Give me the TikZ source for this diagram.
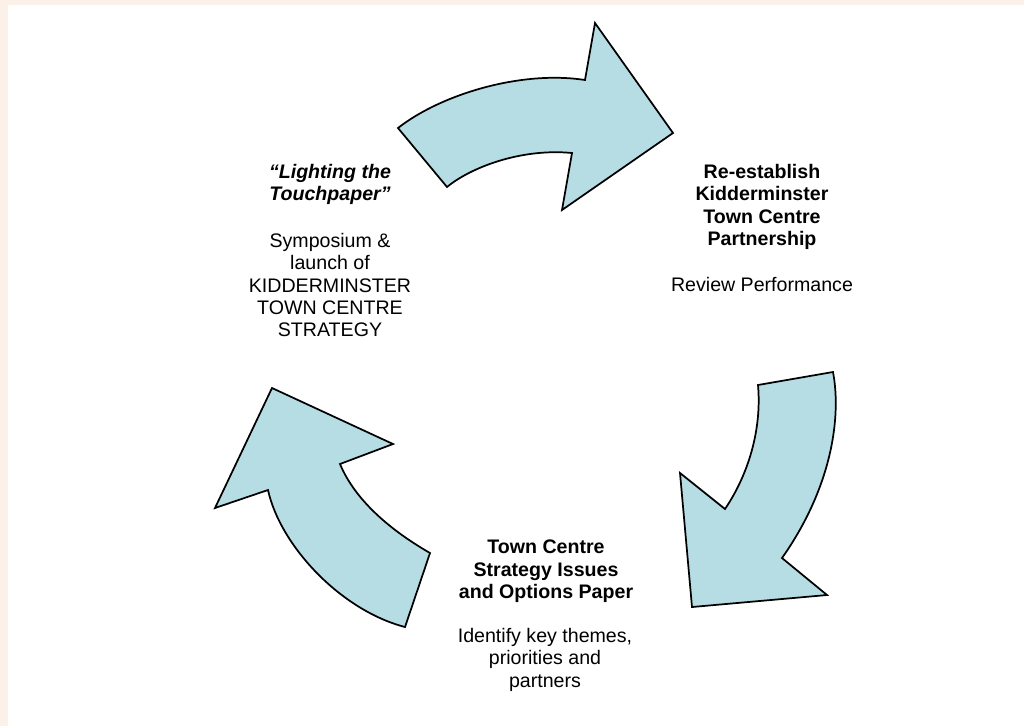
\documentclass[tikz,border=0pt]{standalone}
\usepackage{fontspec}
\setmainfont{Liberation Sans}
\definecolor{peach}{RGB}{252,241,232}
\definecolor{arrowfill}{RGB}{182,221,228}
\begin{document}
\begin{tikzpicture}[x=0.75pt,y=-0.75pt,
  cyclearrow/.style={fill=arrowfill,draw=black,line width=1.3pt,line join=miter},
  txt/.style={align=center,inner sep=0pt,anchor=north,font=\fontsize{14.7}{16.75}\selectfont}]
\path[use as bounding box] (0,0) rectangle (1024,726);
\fill[peach] (0,0) rectangle (1024,726);
\fill[white] (8,5) rectangle (1024,726);
% top arrow
\draw[cyclearrow] (398,128) .. controls (440,95) and (520,70) .. (585,80)
  -- (595,23) -- (673,133) -- (562,210) -- (572,153)
  .. controls (520,148) and (470,168) .. (447,187) -- cycle;
% right arrow
\draw[cyclearrow] (758,385) -- (833,372) .. controls (842,420) and (830,490) .. (782,558)
  -- (827,595) -- (692,607) -- (680,473) -- (725,509)
  .. controls (748,475) and (762,430) .. (758,385) -- cycle;
% left arrow
\draw[cyclearrow] (405,627) -- (430,553) .. controls (390,530) and (355,500) .. (340,464)
  -- (393,444) -- (272,388) -- (215,508) -- (268,490)
  .. controls (280,545) and (340,610) .. (405,627) -- cycle;
% texts
\node[txt] (lt) at (330,164) {\bfseries\itshape “Lighting the\\\bfseries\itshape Touchpaper”};
\node[txt] (ld) at (330,233) {Symposium \&\\launch of\\KIDDERMINSTER\\TOWN CENTRE\\STRATEGY};
\node[txt] (rt) at (762,164) {\bfseries Re-establish\\\bfseries Kidderminster\\\bfseries Town Centre\\\bfseries Partnership};
\node[txt] (rd) at (762,277) {Review Performance};
\node[txt] (bt) at (546,540) {\bfseries Town Centre\\\bfseries Strategy Issues\\\bfseries and Options Paper};
\node[txt] (bd) at (545,628) {Identify key themes,\\priorities and\\partners};
\end{tikzpicture}
\end{document}
